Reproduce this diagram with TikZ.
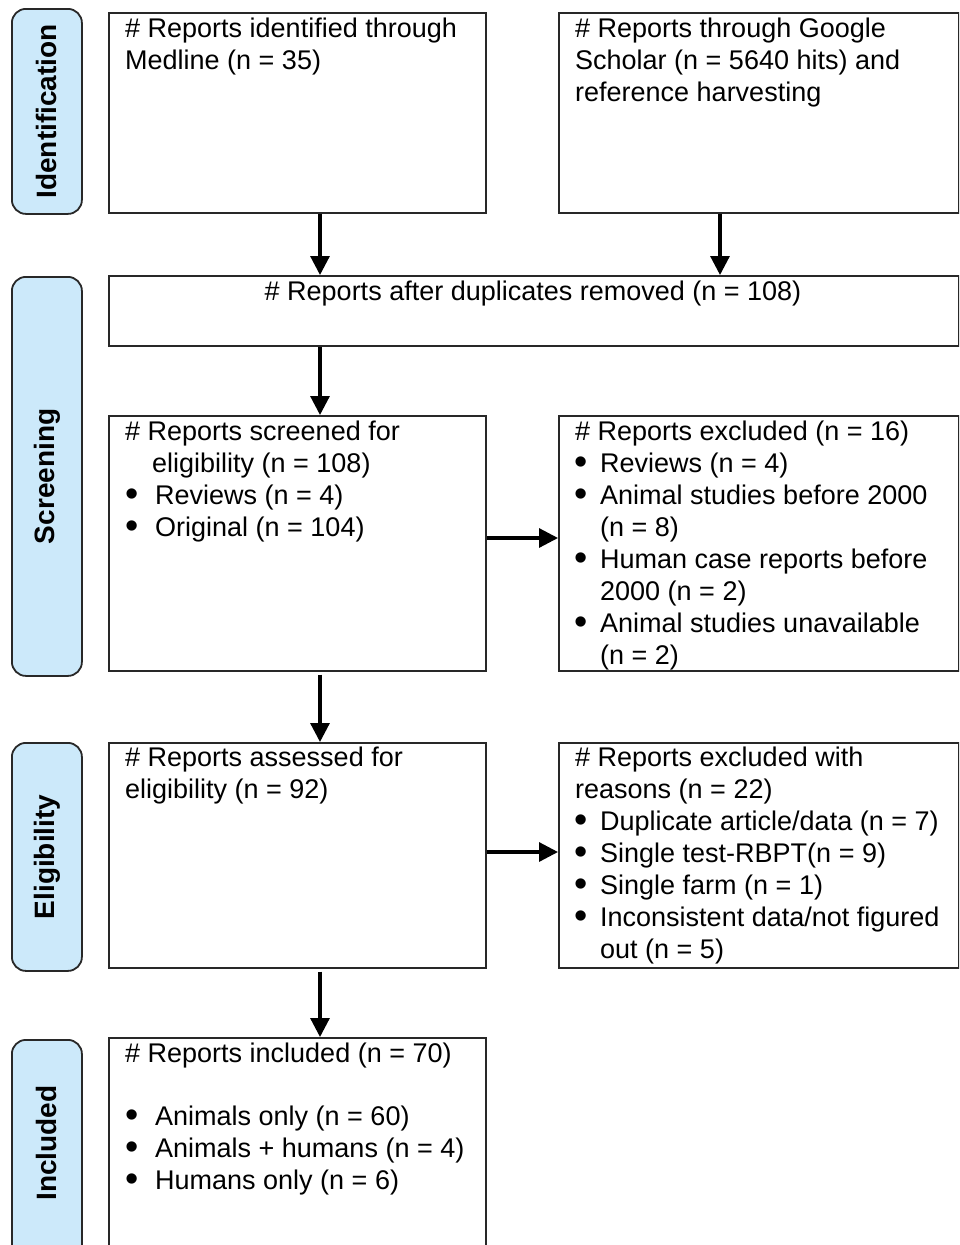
\documentclass[tikz,border=0pt]{standalone}
\usepackage{fontspec}
\setmainfont{Liberation Sans}
\usetikzlibrary{arrows.meta,calc}
\definecolor{phaseblue}{RGB}{204,233,250}
\definecolor{edgegray}{RGB}{40,40,40}
\begin{document}
\begin{tikzpicture}[x=1pt,y=-1pt,
  box/.style={draw=edgegray, line width=1.6pt, inner sep=0pt, anchor=north west},
  phase/.style={draw=edgegray, line width=1.8pt, fill=phaseblue, rounded corners=14pt, inner sep=0pt, anchor=north west},
  phasetxt/.style={rotate=90, font=\fontsize{28}{32}\selectfont\bfseries, inner sep=0pt},
  txt/.style={anchor=north west, inner sep=0pt, align=left, font=\fontsize{27}{32}\selectfont},
  arr/.style={line width=3.2pt, -{Triangle[length=19pt,width=19pt]}}
]
\useasboundingbox (0,0) rectangle (959,1245);
\clip (0,0) rectangle (959,1245);
\newcommand{\bul}[1]{\hspace*{#1}\smash{\raisebox{-1.8pt}{\scalebox{1.4}{\textbullet}}}}
% phase labels
\node[phase, minimum width=70pt, minimum height=205pt] (pid) at (11,8) {};
\node[phasetxt] (tid) at (pid.center) {Identification};
\node[phase, minimum width=70pt, minimum height=399pt] (psc) at (11,276) {};
\node[phasetxt] (tsc) at (psc.center) {Screening};
\node[phase, minimum width=70pt, minimum height=228pt] (pel) at (11,742) {};
\node[phasetxt] (tel) at (pel.center) {Eligibility};
\node[phase, minimum width=70pt, minimum height=240pt] (pin) at (11,1039) {};
\node[phasetxt] (tin) at ($(pin.north)+(0,104)$) {Included};
% boxes
\node[box, minimum width=377pt, minimum height=200pt] (med) at (108,12) {};
\node[box, minimum width=400pt, minimum height=200pt] (goo) at (558,12) {};
\node[box, minimum width=850pt, minimum height=70pt] (dup) at (108,275) {};
\node[box, minimum width=377pt, minimum height=255pt] (scr) at (108,415) {};
\node[box, minimum width=400pt, minimum height=255pt] (exc) at (558,415) {};
\node[box, minimum width=377pt, minimum height=225pt] (ass) at (108,742) {};
\node[box, minimum width=400pt, minimum height=225pt] (exr) at (558,742) {};
\node[box, minimum width=377pt, minimum height=240pt] (inc) at (108,1037) {};
% texts
\node[txt] (tmed) at (125,18) {\# Reports identified through\\Medline (n = 35)};
\node[txt] (tgoo) at (575,18) {\# Reports through Google\\Scholar (n = 5640 hits) and\\reference harvesting};
\node[txt, anchor=north] (tdup) at (533,281) {\# Reports after duplicates removed (n = 108)};
\node[txt] (tscr) at (125,421) {\# Reports screened for\\\hspace*{27pt}eligibility (n = 108)\\
  \makebox[30pt][l]{\bul{0pt}}Reviews (n = 4)\\
  \makebox[30pt][l]{\bul{0pt}}Original (n = 104)};
\node[txt] (texc) at (575,421) {\# Reports excluded (n = 16)\\
  \makebox[25pt][l]{\bul{-1pt}}Reviews (n = 4)\\
  \makebox[25pt][l]{\bul{-1pt}}Animal studies before 2000\\
  \hspace*{25pt}(n = 8)\\
  \makebox[25pt][l]{\bul{-1pt}}Human case reports before\\
  \hspace*{25pt}2000 (n = 2)\\
  \makebox[25pt][l]{\bul{-1pt}}Animal studies unavailable\\
  \hspace*{25pt}(n = 2)};
\node[txt] (tass) at (125,747) {\# Reports assessed for\\eligibility (n = 92)};
\node[txt] (texr) at (575,747) {\# Reports excluded with\\reasons (n = 22)\\
  \makebox[25pt][l]{\bul{-1pt}}Duplicate article/data (n = 7)\\
  \makebox[25pt][l]{\bul{-1pt}}Single test-RBPT(n = 9)\\
  \makebox[25pt][l]{\bul{-1pt}}Single farm (n = 1)\\
  \makebox[25pt][l]{\bul{-1pt}}Inconsistent data/not figured\\
  \hspace*{25pt}out (n = 5)};
\node[txt] (tinc) at (125,1043) {\# Reports included (n = 70)\\[31pt]
  \makebox[30pt][l]{\bul{0pt}}Animals only (n = 60)\\
  \makebox[30pt][l]{\bul{0pt}}Animals + humans (n = 4)\\
  \makebox[30pt][l]{\bul{0pt}}Humans only (n = 6)};
% connectors
\coordinate (cx1) at (320,0);
\coordinate (cx2) at (720,0);
\coordinate (cy1) at (0,538);
\coordinate (cy2) at (0,852);
\draw[arr] (med.south -| cx1) -- (dup.north -| cx1);
\draw[arr] (goo.south -| cx2) -- (dup.north -| cx2);
\draw[arr] (dup.south -| cx1) -- (scr.north -| cx1);
\draw[arr] ($(scr.south -| cx1)+(0,3)$) -- (ass.north -| cx1);
\draw[arr] ($(ass.south -| cx1)+(0,3)$) -- (inc.north -| cx1);
\draw[arr] (scr.east |- cy1) -- (exc.west |- cy1);
\draw[arr] (ass.east |- cy2) -- (exr.west |- cy2);
\end{tikzpicture}
\end{document}
